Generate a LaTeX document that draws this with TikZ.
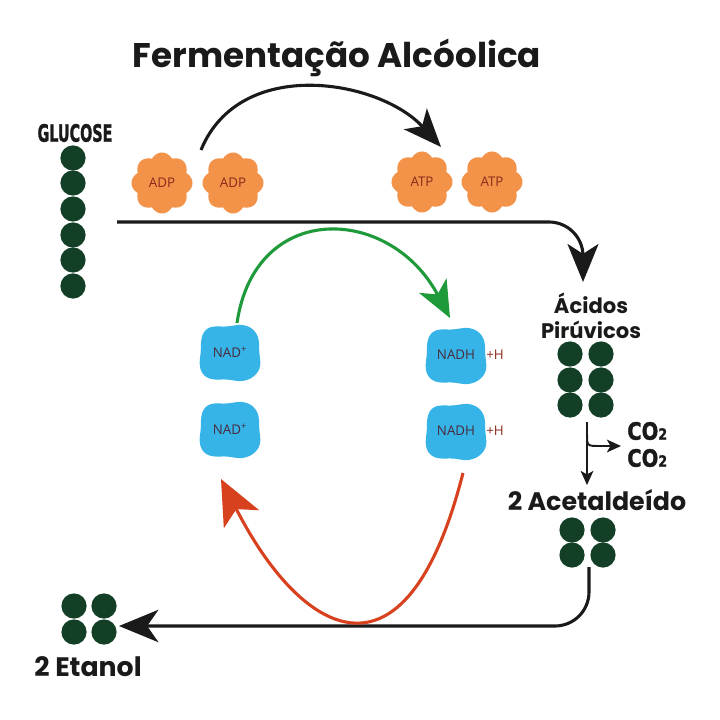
\documentclass[tikz,border=0pt]{standalone}
\usepackage{fontspec}
\setmainfont{Open Sans}
\newfontfamily\pop{Poppins}
\newfontfamily\imp{DejaVu Sans}[FakeBold=1.6]
\usetikzlibrary{arrows.meta}
\definecolor{dgreen}{HTML}{123F26}
\definecolor{orng}{HTML}{F3934A}
\definecolor{nblue}{HTML}{36B4E8}
\definecolor{garrow}{HTML}{1F9A3B}
\definecolor{rarrow}{HTML}{D8411E}
\definecolor{ptxt}{HTML}{8A2A1C}
\definecolor{ntxt}{HTML}{4A2A3A}
\definecolor{ink}{HTML}{1A1A1A}
\begin{document}
\begin{tikzpicture}[x=0.025cm,y=-0.025cm,
  ball/.style={circle,fill=dgreen,minimum size=0.63cm,inner sep=0pt},
  bigline/.style={draw=ink,line width=2.2pt},
  bighead/.style={-{Stealth[length=27pt,width=22pt,inset=7pt]}},
  smallline/.style={draw=ink,line width=1.4pt,-{Stealth[length=10pt,width=9pt,inset=2.5pt]}},
  lbl/.style={font=\pop\bfseries\fontsize{15}{17}\selectfont,text=ink,inner sep=0pt},
  ptext/.style={font=\fontsize{9.5}{11}\selectfont,text=ptxt,inner sep=0pt},
  ntext/.style={font=\fontsize{9.5}{11}\selectfont,text=ntxt,inner sep=0pt},
  imptext/.style={font=\imp\bfseries\fontsize{17}{18}\selectfont,text=ink,inner sep=0pt},
  gear/.pic={\fill[orng] plot[domain=0:358,samples=180,smooth cycle] (\x:{26.3+4.2*abs(cos(4*\x))});},
  cloud/.pic={\fill[nblue] plot[domain=0:357,samples=120,smooth cycle]
      ({(32-2.6*cos(4*\x)+0.8*sin(3*\x))*cos(\x)},{(29.5-2.6*cos(4*\x)+0.8*cos(5*\x))*sin(\x)});},
]
\useasboundingbox (0,0) rectangle (720,720);
\fill[white] (0,0) rectangle (720,720);

% title
\node[font=\pop\bfseries\fontsize{24.3}{28}\selectfont,text=ink,inner sep=0pt] (title) at (337,58) {Fermentação Alcóolica};

% glucose
\node[imptext] (glab) at (75,133) {\scalebox{0.6}[1]{GLUCOSE}};
\foreach \i/\y in {1/158,2/183,3/209,4/235,5/260,6/286}
  \node[ball] (g\i) at (73,\y) {};

% ADP / ATP
\pic at (162,183) {gear}; \node[ptext] (adp1) at (162,183) {ADP};
\pic at (233,183) {gear}; \node[ptext] (adp2) at (233,183) {ADP};
\pic at (422,182) {gear}; \node[ptext] (atp1) at (422,182) {ATP};
\pic at (492,182) {gear}; \node[ptext] (atp2) at (492,182) {ATP};

% top arc
\coordinate (ta) at (201,150);
\coordinate (tb) at (441,147);
\draw[bigline,bighead] (ta) .. controls (240,55) and (380,80) .. (tb);

% main line
\coordinate (ms) at (117,222);
\coordinate (me) at (583,282);
\draw[bigline,bighead,rounded corners=0.85cm] (ms) -| (me);

% pyruvic
\node[lbl] (acid) at (591,303) {Ácidos};
\node[lbl] (piru) at (591,330) {Pirúvicos};
\foreach \r/\y in {1/354,2/380,3/405}{
  \node[ball] (p\r a) at (570,\y) {};
  \node[ball] (p\r b) at (601,\y) {};}

% arrow down + CO2
\coordinate (ds) at (587,422);
\coordinate (de) at (587,485);
\coordinate (bs) at (587,434);
\coordinate (be) at (621,446);
\draw[smallline] (ds) -- (de);
\draw[smallline] (bs) .. controls (587,446) .. (600,446) -- (be);
\node[imptext,anchor=west] (co1) at (627,431) {\scalebox{0.82}[1]{CO\fontsize{11}{11}\selectfont 2}};
\node[imptext,anchor=west] (co2) at (627,458) {\scalebox{0.82}[1]{CO\fontsize{11}{11}\selectfont 2}};

% acetaldehyde
\node[lbl,font=\pop\bfseries\fontsize{18}{20}\selectfont] (acet) at (597,500) {2 Acetaldeído};
\node[ball] (a1) at (572,530) {};
\node[ball] (a2) at (603,530) {};
\node[ball] (a3) at (572,555) {};
\node[ball] (a4) at (603,555) {};

% bottom line
\coordinate (bs2) at (589,567);
\coordinate (be2) at (119,626);
\draw[bigline,-{Stealth[length=28pt,width=23pt,inset=8pt]},rounded corners=0.85cm] (bs2) |- (be2);

% ethanol
\node[ball] (e1) at (74,606) {};
\node[ball] (e2) at (104,606) {};
\node[ball] (e3) at (74,632) {};
\node[ball] (e4) at (104,632) {};
\node[lbl,font=\pop\bfseries\fontsize{19}{21}\selectfont] (etan) at (88,667) {2 Etanol};

% NAD / NADH
\pic at (230,353) {cloud}; \node[ntext] (nad1) at (230,352) {NAD\textsuperscript{+}};
\pic at (230,430) {cloud}; \node[ntext] (nad2) at (230,429) {NAD\textsuperscript{+}};
\pic at (456,356) {cloud}; \node[ntext] (nadh1) at (456,355) {NADH};
\pic at (456,432) {cloud}; \node[ntext] (nadh2) at (456,431) {NADH};
\node[ptext] (h1) at (495,355) {+H};
\node[ptext] (h2) at (495,431) {+H};

% green arc
\coordinate (gs) at (237,323);
\coordinate (ge) at (450,318);
\draw[draw=garrow,line width=2.2pt,-{Stealth[length=26pt,width=22pt,inset=7pt]}] (gs) .. controls (255,200) and (390,205) .. (ge);

% red arc
\coordinate (rs) at (463,473);
\coordinate (re) at (221,479);
\draw[draw=rarrow,line width=2.2pt,-{Stealth[length=32pt,width=28pt,inset=8pt]}] (rs) .. controls (405,700) and (300,634) .. (re);
\end{tikzpicture}
\end{document}
